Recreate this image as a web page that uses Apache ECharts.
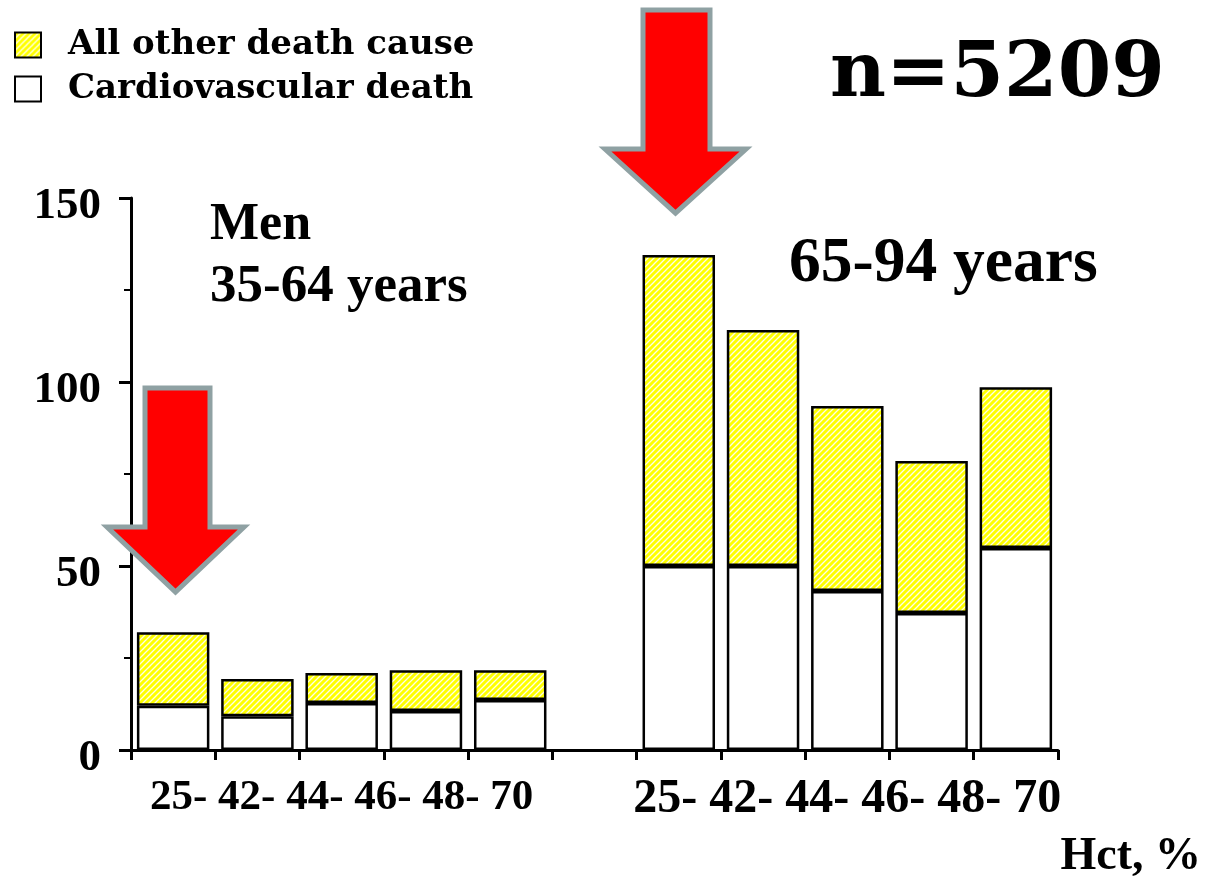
<!DOCTYPE html>
<html>
<head>
<meta charset="utf-8">
<script src="https://cdn.jsdelivr.net/npm/echarts@6/dist/echarts.min.js"></script>
<style>
  html, body { margin: 0; padding: 0; background: #fff; }
  #chart { width: 1207px; height: 880px; }
</style>
</head>
<body>
<div id="chart"></div>
<script>
// Hct bins (same for both age groups) and deaths per bin.
const hctTicks = ['25-', '42-', '44-', '46-', '48-', '70'];
const groups = ['35-64', '65-94'];
const cvMen = [12, 9.2, 12.8, 10.6, 13.6];
const otherMen = [20, 10.1, 8.1, 11.1, 8.1];
const cvOld = [50, 50, 43.2, 37.2, 54.9];
const otherOld = [84.5, 64.1, 50.3, 41.3, 43.7];
const yTicks = [0, 50, 100, 150];

const SERIF = '"Liberation Serif", "Times New Roman", serif';
const SLAB = '"DejaVu Serif", serif';

// yellow fill with thin white diagonal hatching
function makeHatch() {
  const c = document.createElement('canvas');
  c.width = c.height = 6;
  const g = c.getContext('2d');
  g.fillStyle = '#ffff00';
  g.fillRect(0, 0, 6, 6);
  g.strokeStyle = 'rgba(255,255,255,0.9)';
  g.lineWidth = 1.3;
  g.beginPath();
  g.moveTo(0, 6); g.lineTo(6, 0);
  g.moveTo(-1, 1); g.lineTo(1, -1);
  g.moveTo(5, 7); g.lineTo(7, 5);
  g.stroke();
  return c;
}
const hatch = { image: makeHatch(), repeat: 'repeat' };

const bins = hctTicks.slice(0, 5);
const categories = [
  ...bins.map((b) => groups[0] + ' ' + b),
  'gap',
  ...bins.map((b) => groups[1] + ' ' + b),
];
const cvData = [...cvMen, '-', ...cvOld];
const otherData = [...otherMen, '-', ...otherOld];

// down arrow outline: body edges, head shoulders, tip
function arrow(x0, x1, top, hx0, hx1, hy, tipY) {
  const cx = (hx0 + hx1) / 2;
  return {
    type: 'polygon',
    shape: { points: [[x0, top], [x1, top], [x1, hy], [hx1, hy], [cx, tipY], [hx0, hy], [x0, hy]] },
    style: { fill: '#ff0000', stroke: '#8fa1a3', lineWidth: 5, lineJoin: 'miter' },
    z: 100,
  };
}

function label(text, x, y, size, font, align) {
  return {
    type: 'text', x: x, y: y, z: 100,
    style: { text: text, font: 'bold ' + size + 'px ' + font, fill: '#000', align: align || 'left', verticalAlign: 'middle' },
  };
}

const chart = echarts.init(document.getElementById('chart'));
chart.setOption({
  animation: false,
  backgroundColor: '#fff',
  grid: { left: 131, right: 149, top: 198, bottom: 130, containLabel: false },
  legend: {
    data: ['All other death cause', 'Cardiovascular death'],
    orient: 'vertical',
    left: 9, top: 22,
    icon: 'rect',
    itemWidth: 26, itemHeight: 25,
    itemGap: 8,
    itemStyle: { borderWidth: 2, borderColor: '#000' },
    textStyle: { fontFamily: SLAB, fontWeight: 'bold', fontSize: 34, color: '#000', lineHeight: 36, padding: [0, 0, 0, 22] },
    selectedMode: false,
  },
  xAxis: {
    type: 'category',
    data: categories,
    axisLine: { lineStyle: { color: '#000', width: 3 } },
    axisTick: { show: true, interval: 0, length: 10, lineStyle: { color: '#000', width: 3 } },
    axisLabel: {
      interval: 0,
      margin: 26,
      formatter: (v, i) => {
        if (i === 2) return '{a|' + hctTicks.join(' ') + '}';
        if (i === 8) return '{b|' + hctTicks.join(' ') + '}';
        return '';
      },
      rich: {
        a: { fontFamily: SERIF, fontWeight: 'bold', fontSize: 43, color: '#000' },
        b: { fontFamily: SERIF, fontWeight: 'bold', fontSize: 48, color: '#000' },
      },
    },
  },
  yAxis: {
    type: 'value',
    min: 0, max: 150, interval: 50,
    axisLine: { show: true, lineStyle: { color: '#000', width: 3 } },
    axisTick: { show: true, length: 12, lineStyle: { color: '#000', width: 3 } },
    minorTick: { show: true, splitNumber: 2, length: 7, lineStyle: { color: '#000', width: 2 } },
    splitLine: { show: false },
    axisLabel: {
      margin: 30,
      formatter: (v) => (yTicks.includes(v) ? '{v|' + v + '}' : ''),
      rich: {
        v: { fontFamily: SERIF, fontWeight: 'bold', fontSize: 45, color: '#000', padding: [16, 0, 0, 0] },
      },
    },
  },
  series: [
    {
      name: 'Cardiovascular death',
      type: 'bar',
      stack: 'deaths',
      barWidth: '86%',
      data: cvData,
      itemStyle: { color: '#fff', borderColor: '#000', borderWidth: 2.5 },
    },
    {
      name: 'All other death cause',
      type: 'bar',
      stack: 'deaths',
      barWidth: '86%',
      data: otherData,
      itemStyle: { color: hatch, borderColor: '#000', borderWidth: 2.5 },
    },
  ],
  graphic: [
    arrow(145, 210, 388, 107, 244, 527, 592),
    arrow(643, 710, 10, 605, 746, 149, 213),
    label('Men', 210, 226, 52, SERIF),
    label(groups[0] + ' years', 210, 287, 53, SERIF),
    label(groups[1] + ' years', 789, 265, 63.5, SERIF),
    label('n=5209', 830, 76, 77, SLAB),
    label('Hct, %', 1201, 857, 46, SERIF, 'right'),
  ],
});
</script>
</body>
</html>
